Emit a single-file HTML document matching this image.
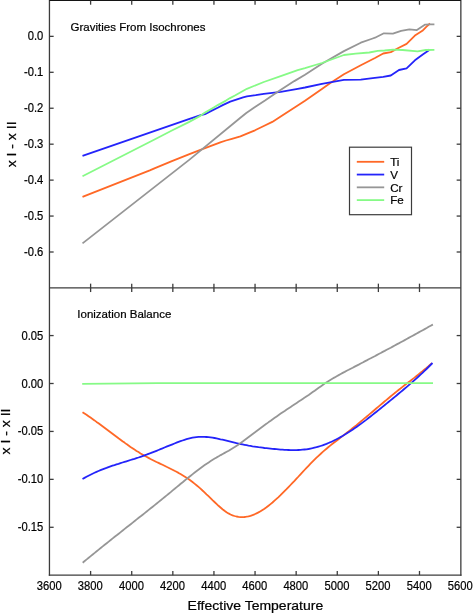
<!DOCTYPE html>
<html><head><meta charset="utf-8"><style>
html,body{margin:0;padding:0;background:#fff;}
body{width:473px;height:613px;overflow:hidden;}
svg{display:block;}
text{font-family:"Liberation Sans",sans-serif;fill:#000;stroke:#000;stroke-width:0.22px;}
.t{opacity:0.999;}
</style></head><body>
<svg width="473" height="613" viewBox="0 0 473 613">
<polyline points="82.5,196.8 149.8,170.4 155.0,168.1 171.9,161.2 188.8,154.4 202.4,149.2 215.0,144.3 221.0,142.1 226.0,140.5 231.9,138.8 240.4,136.3 248.8,132.9 255.0,130.3 263.8,126.0 272.3,121.9 280.7,116.4 297.7,105.5 305.0,100.7 321.9,88.9 330.0,83.2 343.9,74.3 360.8,65.2 375.0,58.0 383.2,53.5 390.8,52.1 398.4,48.0 406.6,43.9 414.9,35.6 422.4,30.8 426.5,26.7 430.0,23.5" fill="none" stroke="#ff6826" stroke-width="1.8" stroke-linejoin="round" stroke-linecap="butt"/>
<polyline points="82.5,155.9 188.8,119.2 200.7,115.2 205.0,114.1 210.8,111.1 217.7,107.7 222.7,105.1 230.2,101.6 243.1,97.3 246.9,96.4 255.7,95.2 263.8,93.8 280.7,91.8 297.7,88.8 305.0,87.5 321.9,83.8 343.9,79.9 360.8,79.6 372.7,78.2 383.2,76.8 390.8,75.5 399.0,70.0 406.6,68.3 414.9,60.3 423.1,54.2 428.6,50.5 429.6,49.4" fill="none" stroke="#2424fa" stroke-width="1.8" stroke-linejoin="round" stroke-linecap="butt"/>
<polyline points="82.5,243.4 189.5,159.6 240.4,117.7 246.3,113.0 255.0,107.1 265.0,100.6 277.4,92.1 294.3,81.1 305.0,74.8 321.9,63.8 343.9,51.1 360.8,42.7 372.7,38.5 375.0,37.7 383.9,33.3 392.9,33.6 401.1,30.8 409.4,29.4 416.9,30.1 425.2,24.6 430.0,24.3 434.4,24.3" fill="none" stroke="#969696" stroke-width="1.8" stroke-linejoin="round" stroke-linecap="butt"/>
<polyline points="82.5,176.2 155.0,139.3 171.9,130.5 188.8,122.1 200.7,115.6 205.0,112.6 214.2,107.2 217.7,105.1 226.0,100.6 230.0,98.1 235.4,95.3 246.9,88.8 263.8,82.0 280.7,76.1 297.7,70.1 305.0,68.1 321.9,63.0 343.9,55.0 355.7,53.7 369.3,52.5 377.7,50.9 384.6,50.5 392.9,49.6 402.5,50.0 417.6,51.4 425.8,50.0 434.4,49.8" fill="none" stroke="#86fa86" stroke-width="1.8" stroke-linejoin="round" stroke-linecap="butt"/>
<polyline points="82.5,412.2 84.5,413.5 86.5,414.8 88.5,416.2 90.5,417.6 92.5,419.0 94.5,420.4 96.5,421.9 98.5,423.3 100.5,424.8 102.5,426.3 104.5,427.8 106.5,429.3 108.5,430.8 110.5,432.3 112.5,433.8 114.5,435.3 116.5,436.8 118.5,438.3 120.5,439.7 122.5,441.2 124.5,442.6 126.5,444.1 128.5,445.5 130.5,446.9 132.5,448.2 134.5,449.6 136.5,450.9 138.5,452.1 140.5,453.4 142.5,454.6 144.5,455.7 146.5,456.8 148.5,457.9 150.5,459.0 152.5,460.0 154.5,461.0 156.5,462.0 158.5,462.9 160.5,463.9 162.5,464.8 164.5,465.8 166.5,466.8 168.5,467.7 170.5,468.7 172.5,469.7 174.5,470.8 176.5,471.8 178.5,472.9 180.5,474.1 182.5,475.3 184.5,476.5 186.5,477.8 188.5,479.1 190.5,480.5 192.5,482.0 194.5,483.6 196.5,485.2 198.5,486.9 200.5,488.6 202.5,490.5 204.5,492.3 206.5,494.3 208.5,496.2 210.5,498.1 212.5,500.1 214.5,502.0 216.5,503.9 218.5,505.8 220.5,507.5 222.5,509.2 224.5,510.8 226.5,512.2 228.5,513.4 230.5,514.5 232.5,515.3 234.5,516.0 236.5,516.5 238.5,516.9 240.5,517.1 242.5,517.1 244.5,517.0 246.5,516.7 248.5,516.3 250.5,515.8 252.5,515.1 254.5,514.3 256.5,513.4 258.5,512.4 260.5,511.3 262.5,510.0 264.5,508.7 266.5,507.3 268.5,505.7 270.5,504.1 272.5,502.5 274.5,500.7 276.5,498.9 278.5,497.1 280.5,495.2 282.5,493.2 284.5,491.2 286.5,489.2 288.5,487.1 290.5,485.0 292.5,482.9 294.5,480.8 296.5,478.6 298.5,476.5 300.5,474.3 302.5,472.2 304.5,470.0 306.5,467.9 308.5,465.8 310.5,463.7 312.5,461.7 314.5,459.7 316.5,457.7 318.5,455.8 320.5,454.0 322.5,452.1 324.5,450.4 326.5,448.7 328.5,447.0 330.5,445.4 332.5,443.8 334.5,442.3 336.5,440.7 338.5,439.2 340.5,437.6 342.5,436.1 344.5,434.6 346.5,433.0 348.5,431.5 350.5,429.9 352.5,428.3 354.5,426.7 356.5,425.1 358.5,423.4 360.5,421.8 362.5,420.1 364.5,418.4 366.5,416.8 368.5,415.1 370.5,413.4 372.5,411.7 374.5,410.0 376.5,408.3 378.5,406.6 380.5,404.9 382.5,403.2 384.5,401.5 386.5,399.9 388.5,398.2 390.5,396.5 392.5,394.9 394.5,393.3 396.5,391.6 398.5,390.0 400.5,388.5 402.5,386.9 404.5,385.3 406.5,383.8 408.5,382.2 410.5,380.7 412.5,379.1 414.5,377.6 416.5,376.0 418.5,374.4 420.5,372.8 422.5,371.2 424.5,369.5 426.5,367.9 428.5,366.2 430.5,364.4 432.0,363.1" fill="none" stroke="#ff6826" stroke-width="1.8" stroke-linejoin="round" stroke-linecap="butt"/>
<polyline points="82.5,479.0 84.5,477.9 86.5,476.8 88.5,475.7 90.5,474.7 92.5,473.7 94.5,472.8 96.5,471.9 98.5,471.0 100.5,470.2 102.5,469.4 104.5,468.6 106.5,467.9 108.5,467.1 110.5,466.4 112.5,465.7 114.5,465.1 116.5,464.4 118.5,463.8 120.5,463.1 122.5,462.5 124.5,461.9 126.5,461.3 128.5,460.7 130.5,460.0 132.5,459.4 134.5,458.8 136.5,458.1 138.5,457.5 140.5,456.8 142.5,456.1 144.5,455.4 146.5,454.7 148.5,453.9 150.5,453.2 152.5,452.4 154.5,451.6 156.5,450.8 158.5,450.0 160.5,449.2 162.5,448.4 164.5,447.5 166.5,446.7 168.5,445.9 170.5,445.1 172.5,444.3 174.5,443.5 176.5,442.7 178.5,441.9 180.5,441.2 182.5,440.5 184.5,439.8 186.5,439.2 188.5,438.7 190.5,438.2 192.5,437.7 194.5,437.4 196.5,437.1 198.5,436.9 200.5,436.8 202.5,436.8 204.5,436.9 206.5,437.0 208.5,437.2 210.5,437.4 212.5,437.7 214.5,438.0 216.5,438.4 218.5,438.8 220.5,439.3 222.5,439.7 224.5,440.2 226.5,440.7 228.5,441.2 230.5,441.7 232.5,442.2 234.5,442.7 236.5,443.2 238.5,443.6 240.5,444.0 242.5,444.4 244.5,444.8 246.5,445.2 248.5,445.6 250.5,445.9 252.5,446.3 254.5,446.6 256.5,446.9 258.5,447.2 260.5,447.4 262.5,447.7 264.5,448.0 266.5,448.2 268.5,448.4 270.5,448.6 272.5,448.8 274.5,449.0 276.5,449.2 278.5,449.4 280.5,449.6 282.5,449.7 284.5,449.8 286.5,449.9 288.5,450.0 290.5,450.1 292.5,450.1 294.5,450.1 296.5,450.1 298.5,450.0 300.5,449.9 302.5,449.7 304.5,449.5 306.5,449.3 308.5,449.0 310.5,448.6 312.5,448.2 314.5,447.7 316.5,447.2 318.5,446.6 320.5,446.0 322.5,445.4 324.5,444.6 326.5,443.9 328.5,443.0 330.5,442.2 332.5,441.3 334.5,440.3 336.5,439.3 338.5,438.2 340.5,437.1 342.5,436.0 344.5,434.8 346.5,433.6 348.5,432.3 350.5,431.0 352.5,429.7 354.5,428.3 356.5,426.9 358.5,425.5 360.5,424.1 362.5,422.6 364.5,421.1 366.5,419.6 368.5,418.0 370.5,416.5 372.5,414.9 374.5,413.3 376.5,411.7 378.5,410.1 380.5,408.5 382.5,406.9 384.5,405.3 386.5,403.6 388.5,402.0 390.5,400.4 392.5,398.8 394.5,397.1 396.5,395.5 398.5,393.8 400.5,392.1 402.5,390.5 404.5,388.8 406.5,387.1 408.5,385.4 410.5,383.6 412.5,381.9 414.5,380.1 416.5,378.3 418.5,376.5 420.5,374.6 422.5,372.8 424.5,370.9 426.5,369.0 428.5,367.0 430.5,365.0 432.5,363.0" fill="none" stroke="#2424fa" stroke-width="1.8" stroke-linejoin="round" stroke-linecap="butt"/>
<polyline points="82.7,562.7 84.7,561.0 86.7,559.4 88.7,557.7 90.7,556.1 92.7,554.5 94.7,552.9 96.7,551.2 98.7,549.6 100.7,548.0 102.7,546.4 104.7,544.8 106.7,543.2 108.7,541.6 110.7,540.0 112.7,538.4 114.7,536.8 116.7,535.3 118.7,533.7 120.7,532.1 122.7,530.5 124.7,528.9 126.7,527.3 128.7,525.8 130.7,524.2 132.7,522.6 134.7,521.0 136.7,519.4 138.7,517.8 140.7,516.3 142.7,514.7 144.7,513.1 146.7,511.5 148.7,509.9 150.7,508.3 152.7,506.7 154.7,505.1 156.7,503.5 158.7,501.9 160.7,500.3 162.7,498.6 164.7,497.0 166.7,495.4 168.7,493.7 170.7,492.1 172.7,490.4 174.7,488.8 176.7,487.1 178.7,485.5 180.7,483.8 182.7,482.2 184.7,480.5 186.7,478.9 188.7,477.3 190.7,475.7 192.7,474.1 194.7,472.5 196.7,471.0 198.7,469.5 200.7,468.0 202.7,466.5 204.7,465.1 206.7,463.7 208.7,462.4 210.7,461.1 212.7,459.8 214.7,458.6 216.7,457.4 218.7,456.3 220.7,455.1 222.7,454.0 224.7,452.9 226.7,451.8 228.7,450.7 230.7,449.5 232.7,448.3 234.7,447.1 236.7,445.7 238.7,444.4 240.7,442.9 242.7,441.5 244.7,440.0 246.7,438.5 248.7,437.0 250.7,435.5 252.7,434.0 254.7,432.5 256.7,431.0 258.7,429.5 260.7,428.0 262.7,426.5 264.7,425.0 266.7,423.6 268.7,422.1 270.7,420.7 272.7,419.2 274.7,417.8 276.7,416.4 278.7,415.0 280.7,413.6 282.7,412.2 284.7,410.9 286.7,409.5 288.7,408.2 290.7,406.9 292.7,405.6 294.7,404.2 296.7,402.9 298.7,401.6 300.7,400.3 302.7,398.9 304.7,397.6 306.7,396.2 308.7,394.9 310.7,393.5 312.7,392.1 314.7,390.7 316.7,389.2 318.7,387.8 320.7,386.4 322.7,385.0 324.7,383.6 326.7,382.3 328.7,381.0 330.7,379.7 332.7,378.5 334.7,377.4 336.7,376.2 338.7,375.1 340.7,374.0 342.7,372.9 344.7,371.9 346.7,370.8 348.7,369.8 350.7,368.7 352.7,367.7 354.7,366.6 356.7,365.6 358.7,364.6 360.7,363.5 362.7,362.5 364.7,361.4 366.7,360.4 368.7,359.3 370.7,358.3 372.7,357.2 374.7,356.2 376.7,355.1 378.7,354.0 380.7,353.0 382.7,351.9 384.7,350.9 386.7,349.8 388.7,348.7 390.7,347.7 392.7,346.6 394.7,345.5 396.7,344.4 398.7,343.4 400.7,342.3 402.7,341.2 404.7,340.1 406.7,339.0 408.7,337.9 410.7,336.8 412.7,335.7 414.7,334.6 416.7,333.5 418.7,332.4 420.7,331.3 422.7,330.2 424.7,329.1 426.7,328.0 428.7,326.8 430.7,325.7 432.7,324.6 432.9,324.5" fill="none" stroke="#969696" stroke-width="1.8" stroke-linejoin="round" stroke-linecap="butt"/>
<polyline points="82.2,383.9 158.0,383.2 433.0,383.2" fill="none" stroke="#86fa86" stroke-width="1.8" stroke-linejoin="round" stroke-linecap="butt"/>
<line x1="49.45" y1="0.00" x2="49.45" y2="575.80" stroke="#3c3c3c" stroke-width="1.3"/>
<line x1="460.85" y1="0.00" x2="460.85" y2="575.80" stroke="#3c3c3c" stroke-width="1.3"/>
<line x1="48.80" y1="575.15" x2="461.50" y2="575.15" stroke="#3c3c3c" stroke-width="1.3"/>
<line x1="49.45" y1="0.55" x2="460.85" y2="0.55" stroke="#141414" stroke-width="1.1"/>
<line x1="49.45" y1="287.85" x2="460.85" y2="287.85" stroke="#3c3c3c" stroke-width="1.3"/>
<line x1="90.61" y1="0.50" x2="90.61" y2="4.70" stroke="#3c3c3c" stroke-width="1.3"/>
<line x1="90.61" y1="283.65" x2="90.61" y2="292.05" stroke="#3c3c3c" stroke-width="1.3"/>
<line x1="90.61" y1="570.95" x2="90.61" y2="575.15" stroke="#3c3c3c" stroke-width="1.3"/>
<line x1="131.72" y1="0.50" x2="131.72" y2="4.70" stroke="#3c3c3c" stroke-width="1.3"/>
<line x1="131.72" y1="283.65" x2="131.72" y2="292.05" stroke="#3c3c3c" stroke-width="1.3"/>
<line x1="131.72" y1="570.95" x2="131.72" y2="575.15" stroke="#3c3c3c" stroke-width="1.3"/>
<line x1="172.83" y1="0.50" x2="172.83" y2="4.70" stroke="#3c3c3c" stroke-width="1.3"/>
<line x1="172.83" y1="283.65" x2="172.83" y2="292.05" stroke="#3c3c3c" stroke-width="1.3"/>
<line x1="172.83" y1="570.95" x2="172.83" y2="575.15" stroke="#3c3c3c" stroke-width="1.3"/>
<line x1="213.94" y1="0.50" x2="213.94" y2="4.70" stroke="#3c3c3c" stroke-width="1.3"/>
<line x1="213.94" y1="283.65" x2="213.94" y2="292.05" stroke="#3c3c3c" stroke-width="1.3"/>
<line x1="213.94" y1="570.95" x2="213.94" y2="575.15" stroke="#3c3c3c" stroke-width="1.3"/>
<line x1="255.05" y1="0.50" x2="255.05" y2="4.70" stroke="#3c3c3c" stroke-width="1.3"/>
<line x1="255.05" y1="283.65" x2="255.05" y2="292.05" stroke="#3c3c3c" stroke-width="1.3"/>
<line x1="255.05" y1="570.95" x2="255.05" y2="575.15" stroke="#3c3c3c" stroke-width="1.3"/>
<line x1="296.16" y1="0.50" x2="296.16" y2="4.70" stroke="#3c3c3c" stroke-width="1.3"/>
<line x1="296.16" y1="283.65" x2="296.16" y2="292.05" stroke="#3c3c3c" stroke-width="1.3"/>
<line x1="296.16" y1="570.95" x2="296.16" y2="575.15" stroke="#3c3c3c" stroke-width="1.3"/>
<line x1="337.27" y1="0.50" x2="337.27" y2="4.70" stroke="#3c3c3c" stroke-width="1.3"/>
<line x1="337.27" y1="283.65" x2="337.27" y2="292.05" stroke="#3c3c3c" stroke-width="1.3"/>
<line x1="337.27" y1="570.95" x2="337.27" y2="575.15" stroke="#3c3c3c" stroke-width="1.3"/>
<line x1="378.38" y1="0.50" x2="378.38" y2="4.70" stroke="#3c3c3c" stroke-width="1.3"/>
<line x1="378.38" y1="283.65" x2="378.38" y2="292.05" stroke="#3c3c3c" stroke-width="1.3"/>
<line x1="378.38" y1="570.95" x2="378.38" y2="575.15" stroke="#3c3c3c" stroke-width="1.3"/>
<line x1="419.49" y1="0.50" x2="419.49" y2="4.70" stroke="#3c3c3c" stroke-width="1.3"/>
<line x1="419.49" y1="283.65" x2="419.49" y2="292.05" stroke="#3c3c3c" stroke-width="1.3"/>
<line x1="419.49" y1="570.95" x2="419.49" y2="575.15" stroke="#3c3c3c" stroke-width="1.3"/>
<line x1="49.45" y1="36.36" x2="53.65" y2="36.36" stroke="#3c3c3c" stroke-width="1.3"/>
<line x1="456.65" y1="36.36" x2="460.85" y2="36.36" stroke="#3c3c3c" stroke-width="1.3"/>
<line x1="49.45" y1="72.30" x2="53.65" y2="72.30" stroke="#3c3c3c" stroke-width="1.3"/>
<line x1="456.65" y1="72.30" x2="460.85" y2="72.30" stroke="#3c3c3c" stroke-width="1.3"/>
<line x1="49.45" y1="108.24" x2="53.65" y2="108.24" stroke="#3c3c3c" stroke-width="1.3"/>
<line x1="456.65" y1="108.24" x2="460.85" y2="108.24" stroke="#3c3c3c" stroke-width="1.3"/>
<line x1="49.45" y1="144.18" x2="53.65" y2="144.18" stroke="#3c3c3c" stroke-width="1.3"/>
<line x1="456.65" y1="144.18" x2="460.85" y2="144.18" stroke="#3c3c3c" stroke-width="1.3"/>
<line x1="49.45" y1="180.12" x2="53.65" y2="180.12" stroke="#3c3c3c" stroke-width="1.3"/>
<line x1="456.65" y1="180.12" x2="460.85" y2="180.12" stroke="#3c3c3c" stroke-width="1.3"/>
<line x1="49.45" y1="216.06" x2="53.65" y2="216.06" stroke="#3c3c3c" stroke-width="1.3"/>
<line x1="456.65" y1="216.06" x2="460.85" y2="216.06" stroke="#3c3c3c" stroke-width="1.3"/>
<line x1="49.45" y1="252.00" x2="53.65" y2="252.00" stroke="#3c3c3c" stroke-width="1.3"/>
<line x1="456.65" y1="252.00" x2="460.85" y2="252.00" stroke="#3c3c3c" stroke-width="1.3"/>
<line x1="49.45" y1="335.57" x2="53.65" y2="335.57" stroke="#3c3c3c" stroke-width="1.3"/>
<line x1="456.65" y1="335.57" x2="460.85" y2="335.57" stroke="#3c3c3c" stroke-width="1.3"/>
<line x1="49.45" y1="383.50" x2="53.65" y2="383.50" stroke="#3c3c3c" stroke-width="1.3"/>
<line x1="456.65" y1="383.50" x2="460.85" y2="383.50" stroke="#3c3c3c" stroke-width="1.3"/>
<line x1="49.45" y1="431.43" x2="53.65" y2="431.43" stroke="#3c3c3c" stroke-width="1.3"/>
<line x1="456.65" y1="431.43" x2="460.85" y2="431.43" stroke="#3c3c3c" stroke-width="1.3"/>
<line x1="49.45" y1="479.36" x2="53.65" y2="479.36" stroke="#3c3c3c" stroke-width="1.3"/>
<line x1="456.65" y1="479.36" x2="460.85" y2="479.36" stroke="#3c3c3c" stroke-width="1.3"/>
<line x1="49.45" y1="527.29" x2="53.65" y2="527.29" stroke="#3c3c3c" stroke-width="1.3"/>
<line x1="456.65" y1="527.29" x2="460.85" y2="527.29" stroke="#3c3c3c" stroke-width="1.3"/>
<rect x="349.5" y="147.2" width="62" height="67.5" fill="#fff" stroke="#3c3c3c" stroke-width="1.2"/>
<line x1="356.80" y1="161.80" x2="384.20" y2="161.80" stroke="#ff6826" stroke-width="1.8"/>
<line x1="356.80" y1="174.57" x2="384.20" y2="174.57" stroke="#2424fa" stroke-width="1.8"/>
<line x1="356.80" y1="187.34" x2="384.20" y2="187.34" stroke="#969696" stroke-width="1.8"/>
<line x1="356.80" y1="200.11" x2="384.20" y2="200.11" stroke="#86fa86" stroke-width="1.8"/>
<g class="t">
<text transform="translate(43.35,40.36) scale(0.92,1)" font-size="12.2" text-anchor="end" >0.0</text>
<text transform="translate(43.35,76.30) scale(0.92,1)" font-size="12.2" text-anchor="end" >-0.1</text>
<text transform="translate(43.35,112.24) scale(0.92,1)" font-size="12.2" text-anchor="end" >-0.2</text>
<text transform="translate(43.35,148.18) scale(0.92,1)" font-size="12.2" text-anchor="end" >-0.3</text>
<text transform="translate(43.35,184.12) scale(0.92,1)" font-size="12.2" text-anchor="end" >-0.4</text>
<text transform="translate(43.35,220.06) scale(0.92,1)" font-size="12.2" text-anchor="end" >-0.5</text>
<text transform="translate(43.35,256.00) scale(0.92,1)" font-size="12.2" text-anchor="end" >-0.6</text>
<text transform="translate(43.35,339.57) scale(0.92,1)" font-size="12.2" text-anchor="end" >0.05</text>
<text transform="translate(43.35,387.50) scale(0.92,1)" font-size="12.2" text-anchor="end" >0.00</text>
<text transform="translate(43.35,435.43) scale(0.92,1)" font-size="12.2" text-anchor="end" >-0.05</text>
<text transform="translate(43.35,483.36) scale(0.92,1)" font-size="12.2" text-anchor="end" >-0.10</text>
<text transform="translate(43.35,531.29) scale(0.92,1)" font-size="12.2" text-anchor="end" >-0.15</text>
<text transform="translate(49.20,589.50) scale(0.92,1)" font-size="12.2" text-anchor="middle" >3600</text>
<text transform="translate(90.31,589.50) scale(0.92,1)" font-size="12.2" text-anchor="middle" >3800</text>
<text transform="translate(131.42,589.50) scale(0.92,1)" font-size="12.2" text-anchor="middle" >4000</text>
<text transform="translate(172.53,589.50) scale(0.92,1)" font-size="12.2" text-anchor="middle" >4200</text>
<text transform="translate(213.64,589.50) scale(0.92,1)" font-size="12.2" text-anchor="middle" >4400</text>
<text transform="translate(254.75,589.50) scale(0.92,1)" font-size="12.2" text-anchor="middle" >4600</text>
<text transform="translate(295.86,589.50) scale(0.92,1)" font-size="12.2" text-anchor="middle" >4800</text>
<text transform="translate(336.97,589.50) scale(0.92,1)" font-size="12.2" text-anchor="middle" >5000</text>
<text transform="translate(378.08,589.50) scale(0.92,1)" font-size="12.2" text-anchor="middle" >5200</text>
<text transform="translate(419.19,589.50) scale(0.92,1)" font-size="12.2" text-anchor="middle" >5400</text>
<text transform="translate(460.30,589.50) scale(0.92,1)" font-size="12.2" text-anchor="middle" >5600</text>
<text transform="translate(255.40,609.60) scale(1.077,1)" font-size="13" text-anchor="middle" >Effective Temperature</text>
<text x="70.60" y="30.90" font-size="11.5" text-anchor="start" >Gravities From Isochrones</text>
<text x="77.30" y="317.80" font-size="11.5" text-anchor="start" >Ionization Balance</text>
<text font-size="13" text-anchor="middle" transform="translate(16.3,144.4) rotate(-90) scale(1.077,1)">x I - x II</text>
<text font-size="13" text-anchor="middle" transform="translate(9.7,431.5) rotate(-90) scale(1.077,1)">x I - x II</text>
<text x="390.20" y="166.00" font-size="11.6" text-anchor="start" >Ti</text>
<text x="390.20" y="178.77" font-size="11.6" text-anchor="start" >V</text>
<text x="390.20" y="191.54" font-size="11.6" text-anchor="start" >Cr</text>
<text x="390.20" y="204.31" font-size="11.6" text-anchor="start" >Fe</text>
</g>
</svg>
</body></html>
